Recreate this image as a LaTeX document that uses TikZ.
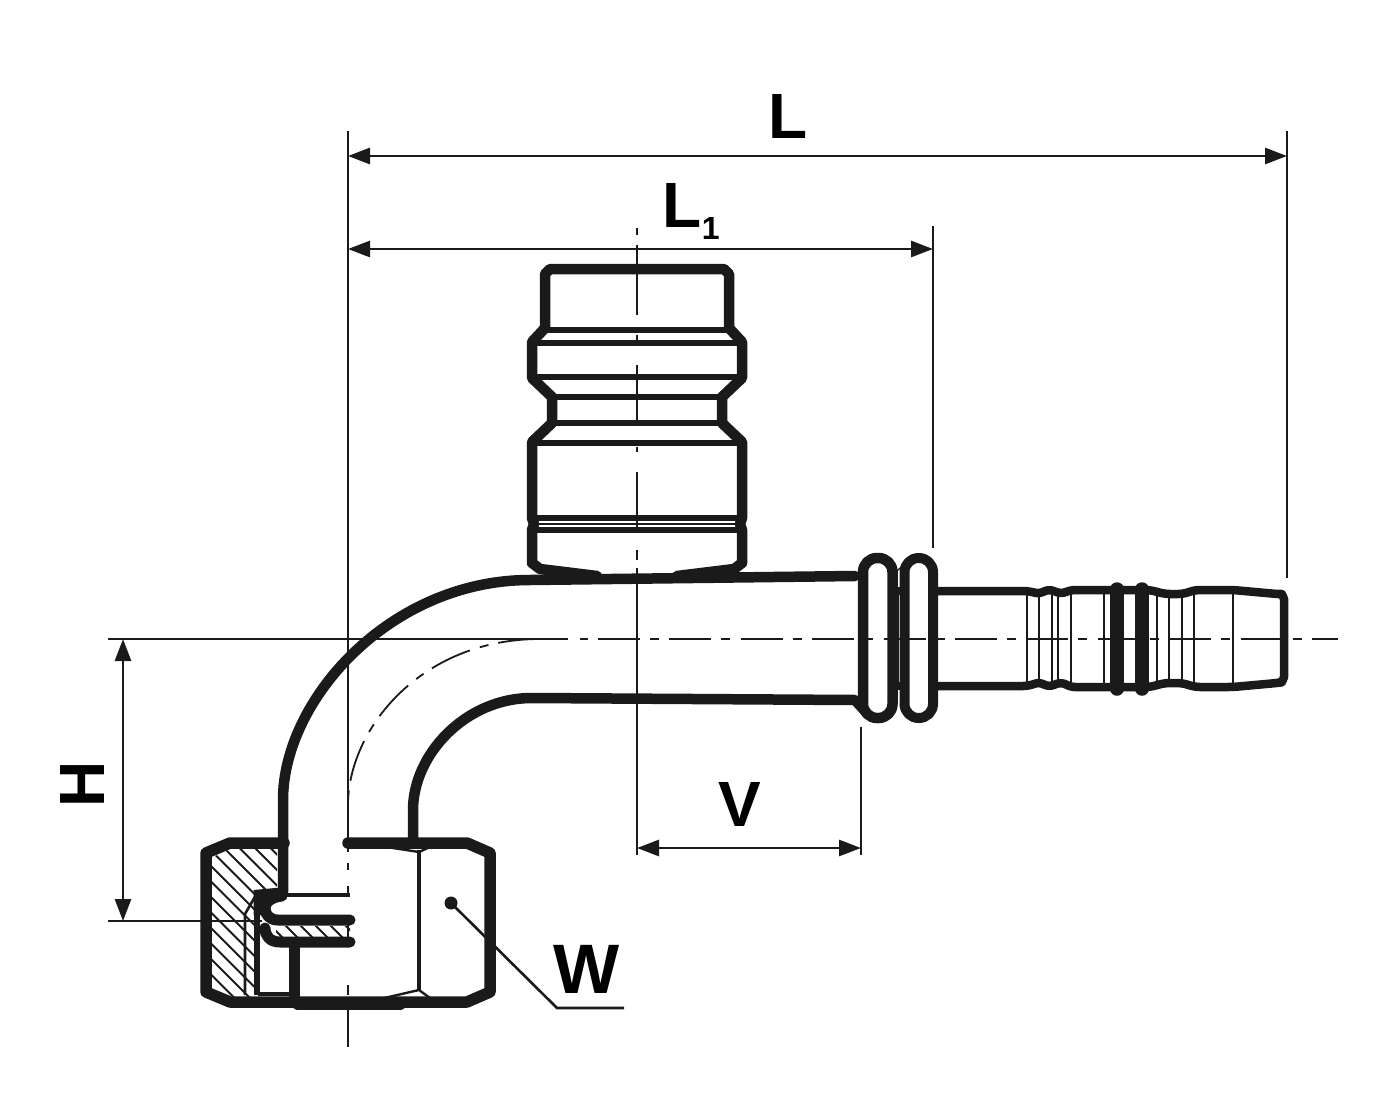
\documentclass[tikz,border=0pt]{standalone}
\usepackage{fontspec}
\setmainfont{Liberation Sans}
\usetikzlibrary{arrows.meta}
\definecolor{ink}{HTML}{1A1A1A}
\tikzset{
  wall/.style={draw=ink,line width=11pt,line join=round,line cap=round},
  shell/.style={draw=ink,line width=10pt,line join=round,line cap=round},
  rib/.style={draw=ink,line width=6.5pt,line cap=butt},
  hair/.style={draw=ink,line width=2.6pt},
  axis/.style={draw=ink,line width=2.2pt},
  hatchline/.style={draw=ink,line width=1.8pt},
  ring/.style={draw=ink,line width=13.5pt,line cap=round},
  dimline/.style={draw=ink,line width=2.8pt,{Triangle[length=22pt,width=16pt]}-{Triangle[length=22pt,width=16pt]}},
  lbl/.style={font=\fontsize{64}{64}\selectfont\bfseries,text=black,inner sep=0pt,anchor=base west},
}
\begin{document}
\begin{tikzpicture}[x=1pt,y=-1pt]
\useasboundingbox (0,0) rectangle (1388,1107);
% named end points
\coordinate (Lx0) at (348,156); \coordinate (Lx1) at (1287,156);
\coordinate (Ly0) at (348,249); \coordinate (Ly1) at (933,249);
\coordinate (Vx0) at (637,848); \coordinate (Vx1) at (861,848);
\coordinate (Hy0) at (123,639); \coordinate (Hy1) at (123,921);
\coordinate (knee) at (557,1008); \coordinate (shelf) at (624,1008);
% extension and axis lines
\draw[hair] (348,131) -- (348,840);
\draw[hair] (348,1003) -- (348,1047);
\draw[hair] (348,843) -- (348,852) (348,863) -- (348,870) (348,886) -- (348,896) (348,925) -- (348,946) (348,985) -- (348,995);
\draw[hair] (1287,131) -- (1287,578);
\draw[hair] (933,226) -- (933,548);
\draw[hair] (861,727) -- (861,855);
\draw[axis] (108,639) -- (568,639) (580,639) -- (588,639);
\draw[axis,dash pattern=on 42pt off 10pt on 9pt off 10.4pt] (598,639) -- (1338,639);
\draw[hair] (108,921) -- (262,921);
\draw[hair] (637,228) -- (637,235) (637,245) -- (637,315) (637,335) -- (637,340) (637,365) -- (637,422)
  (637,447) -- (637,452) (637,472) -- (637,532) (637,550) -- (637,560) (637,568) -- (637,855);
\draw[axis,dash pattern=on 42pt off 10pt on 9pt off 10.4pt,line width=1.8pt] (540,639) .. controls (420,639) and (348,730) .. (348,805);
% dimensions
\draw[dimline] (Lx0) -- (Lx1);
\draw[dimline] (Ly0) -- (Ly1);
\draw[dimline] (Vx0) -- (Vx1);
\draw[dimline] (Hy0) -- (Hy1);
% labels
\node[lbl] (labL) at (768,139) {L};
\node[lbl] (labLone) at (662.5,228) {L{\fontsize{32}{32}\selectfont\raisebox{-12pt}{1}}};
\node[lbl] (labV) at (718,826) {V};
\node[lbl,rotate=90] (labH) at (104,808) {H};
\node[lbl,font=\fontsize{70}{70}\selectfont\bfseries] (labW) at (553,993) {W};
% hatching
\begin{scope}
\clip (211,858) -- (232,848) -- (277,848) -- (277,890) -- (255,893) -- (255,998) -- (235,998) -- (211,985) -- cycle;
\foreach \c in {-810,-794.5,...,-480} \draw[hatchline] (190,{190-\c}) -- (380,{380-\c});
\end{scope}
\begin{scope}
\clip (276,926) rectangle (350,938);
\foreach \c in {-670,-655,...,-560} \draw[hatchline] (270,{270-\c}) -- (360,{360-\c});
\end{scope}
\draw[hair] (245,995) -- (245,914) -- (256,895);
\draw[hair] (255,914) -- (255,995);
\draw[hair,line width=4.5pt] (258,893) -- (258,995);
\draw[hair,line width=3.5pt] (258,994) -- (294,994);
% bent tube
\draw[wall,line width=10.5pt] (283,892) -- (283,800) .. controls (283,700) and (390,580) .. (530,580) -- (855,576);
\draw[wall,line width=10.5pt] (413,843) -- (413,810) .. controls (413,755) and (465,698) .. (532,698) -- (855,700) -- (866,712);
% nut
\draw[wall,line width=11.5pt] (284,843) -- (230,843) -- (206,853) -- (206,992) -- (230,1002) -- (467,1002) -- (490,992) -- (490,853) -- (467,843) -- (348,843);
\draw[rib,line width=4.5pt] (419,850) -- (419,990);
\draw[rib,line width=2.4pt] (380,846) -- (419,852) -- (430,847);
\draw[rib,line width=2.4pt] (380,999) -- (419,990) -- (430,998);
\draw[rib,line width=9pt,line cap=round] (297,1005) -- (401,1005);
\draw[rib,line width=11pt] (294,942) -- (294,1004);
% seat and hook
\draw[rib,line width=4.5pt] (270,895) -- (350,895);
\draw[wall,line join=miter,line cap=butt] (281,893) -- (259,895) -- (259,915);
\draw[wall] (350,920) -- (278,920) .. controls (270,920) and (265,915) .. (265,908) .. controls (265,902) and (272,897) .. (282,896);
\draw[wall] (350,942) -- (280,942) .. controls (270,942) and (265,936) .. (265,928);
% port
\draw[wall,line width=10.5pt] (597,576) -- (540,569) -- (532,563) -- (532,530) -- (534,524) -- (532,518) -- (532,442) -- (552,423) -- (552,397) -- (532,378) -- (532,342) -- (545,328) -- (545,274) -- (550,269) -- (724,269) -- (729,274) -- (729,328) -- (742,342) -- (742,378) -- (722,397) -- (722,423) -- (742,442) -- (742,518) -- (740,524) -- (742,530) -- (742,563) -- (734,569) -- (677,576);
\draw[wall,line width=7pt] (597,577) -- (677,577);
\draw[rib] (545,330) -- (729,330);
\draw[rib] (532,343) -- (742,343);
\draw[rib] (532,377) -- (742,377);
\draw[rib] (552,397) -- (722,397);
\draw[rib] (552,423) -- (722,423);
\draw[rib] (532,443) -- (742,443);
\draw[rib] (532,518) -- (742,518);
\draw[rib] (532,530) -- (742,530);
\draw[hair,line width=1.2pt,draw=ink] (532,524) -- (742,524);
% collars
\draw[shell,line width=10.5pt,rounded corners=14pt] (863,558) rectangle (892.5,718);
\draw[shell,line width=10pt,rounded corners=14pt] (904.5,558) rectangle (933,718);
\draw[hair] (898,590) -- (898,686);
\draw[rib,line width=8.5pt] (892,591) -- (905,591) (892,686) -- (905,686);
\draw[hair,line width=1.2pt] (895,573) -- (900,568);
% hose tail
\draw[shell,line width=8.5pt,rounded corners=5pt] (935,591) -- (1028,591) -- (1040,594) -- (1048,589) -- (1062,594) -- (1070,590) -- (1110,590) -- (1150,590) -- (1165,594) -- (1183,594) -- (1195,590) -- (1233,590) -- (1277,594) -- (1284,594) -- (1284,682) -- (1277,683) -- (1233,687) -- (1195,687) -- (1182,683) -- (1165,683) -- (1150,687) -- (1070,687) -- (1062,682) -- (1048,687) -- (1040,682) -- (1028,686) -- (935,686);
\foreach \x in {1027,1039,1052,1058,1071,1104,1157,1169,1182,1194,1233}
  \draw[hair,line width=2.2pt] (\x,592) -- (\x,684);
\draw[ring] (1117,589) -- (1117,689);
\draw[ring] (1142,589) -- (1142,689);
% W leader
\node[circle,fill=ink,inner sep=0pt,minimum size=13pt] (dot) at (451,903) {};
\draw[hair] (dot.center) -- (knee) -- (shelf);
\end{tikzpicture}
\end{document}
